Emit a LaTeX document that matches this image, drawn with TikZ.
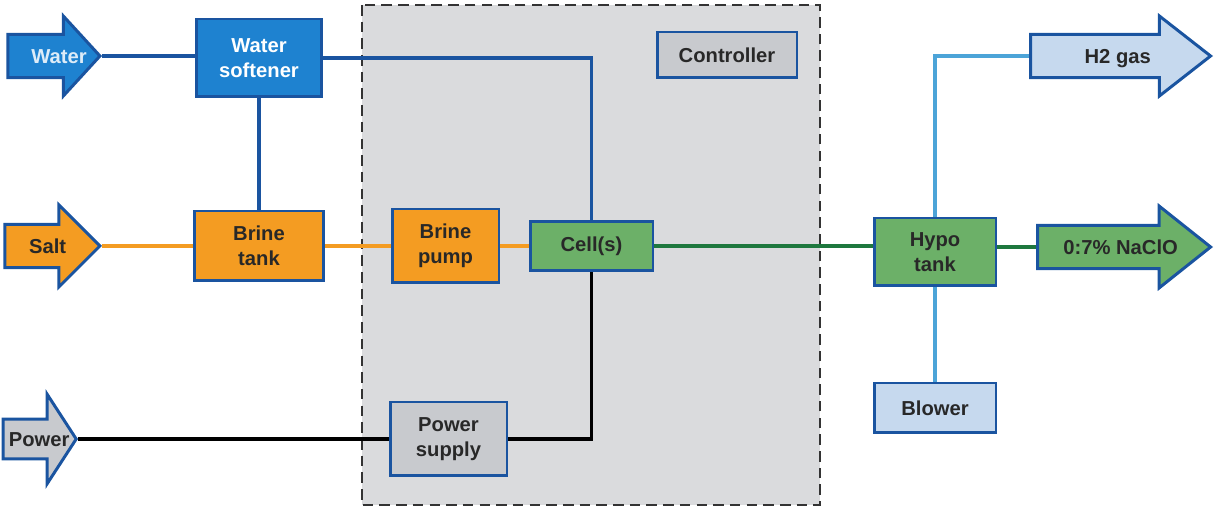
\documentclass[tikz,border=0pt]{standalone}
\usepackage{fontspec}
\setmainfont{Liberation Sans}
\usepackage{xcolor}
\definecolor{softblue}{RGB}{30,130,208}
\definecolor{edgeblue}{RGB}{26,84,160}
\definecolor{brineorg}{RGB}{244,156,34}
\definecolor{cellgrn}{RGB}{108,176,104}
\definecolor{hypogrn}{RGB}{30,120,62}
\definecolor{airblue}{RGB}{76,164,216}
\definecolor{paleblue}{RGB}{198,217,238}
\definecolor{unitgray}{RGB}{200,202,206}
\definecolor{skidgray}{RGB}{218,219,221}
\definecolor{inkdark}{RGB}{40,40,40}
\usetikzlibrary{shapes.arrows, positioning, calc}
\tikzset{
  unit/.style={
    rectangle, draw=edgeblue, line width=1.7pt,
    align=center, inner sep=1pt, text=inkdark,
    font=\fontsize{11.5}{14}\selectfont\bfseries},
  feed/.style={
    single arrow, draw=edgeblue, line width=1.7pt, anchor=tip,
    single arrow head indent=0pt, inner xsep=1pt, inner ysep=0pt,
    text height=15.5pt, text depth=7.3pt, text=inkdark,
    font=\fontsize{11.5}{14}\selectfont\bfseries},
  pipe/.style={line width=2.1pt},
  skidline/.style={line width=1.6pt, draw=black!80, dash pattern=on 6pt off 3.5pt},
}

\begin{document}
\begin{tikzpicture}[x=0.02cm, y=-0.02cm]
  \useasboundingbox (0,0) rectangle (1217,509);
  % packaged skid
  \draw[skidline, fill=skidgray] (362,5) rectangle (820,505);

  % inputs
  \node[feed, fill=softblue, text=white!85!softblue, minimum height=1.84cm,
        inner xsep=-9pt,
        single arrow head extend=0.37cm, single arrow tip angle=95]
    (water) at (102,56) {\hspace*{17pt}Water};
  \node[feed, fill=brineorg, minimum height=1.9cm, inner xsep=-2.4pt,
        single arrow head extend=0.39cm, single arrow tip angle=90]
    (salt) at (102,246) {\hspace*{6.8pt}Salt};
  \node[feed, fill=unitgray, minimum height=1.46cm, inner xsep=-8pt,
        text height=14.6pt, text depth=6.4pt,
        single arrow head extend=0.5cm, single arrow tip angle=114]
    (power) at (78,439) {\hspace*{6.8pt}Power};

  % units
  \node[unit, fill=softblue, text=white, minimum width=2.52cm, minimum height=1.56cm]
    (soft) at (259,58) {Water\\softener};
  \node[unit, fill=brineorg, minimum width=2.6cm, minimum height=1.4cm]
    (tank) at (259,246) {Brine\\tank};
  \node[unit, fill=brineorg, minimum width=2.14cm, minimum height=1.48cm]
    (pump) at (445.5,246) {Brine\\pump};
  \node[unit, fill=cellgrn, minimum width=2.46cm, minimum height=0.98cm]
    (cell) at (591.5,246) {Cell(s)};
  \node[unit, fill=unitgray, minimum width=2.8cm, minimum height=0.92cm]
    (ctrl) at (727,55) {Controller};
  \node[unit, fill=unitgray, minimum width=2.34cm, minimum height=1.48cm]
    (psu) at (448.5,439) {Power\\supply};
  \node[unit, fill=cellgrn, minimum width=2.44cm, minimum height=1.36cm]
    (hypo) at (935,252) {Hypo\\tank};
  \node[unit, fill=paleblue, minimum width=2.44cm, minimum height=1.0cm]
    (blower) at (935,408) {Blower};

  % outputs
  \node[feed, fill=paleblue, minimum height=3.6cm, inner xsep=-5.2pt,
        single arrow head extend=0.37cm, single arrow tip angle=76]
    (h2) at (1213,56) {\hspace*{12.4pt}H2 gas};
  \node[feed, fill=cellgrn, minimum height=3.46cm, inner xsep=-4.7pt,
        single arrow head extend=0.39cm, single arrow tip angle=77]
    (naclo) at (1213,247) {\hspace*{11.4pt}0:7\% NaClO};

  % piping
  \draw[pipe, edgeblue] (water.tip) -- (water.tip -| soft.west);
  \draw[pipe, edgeblue] (soft.south) -- (tank.north);
  \draw[pipe, edgeblue] (soft.east) -| (cell.north);
  \draw[pipe, brineorg] (salt.tip) -- (tank.west);
  \draw[pipe, brineorg] (tank.east) -- (pump.west);
  \draw[pipe, brineorg] (pump.east) -- (cell.west);
  \draw[pipe, black] (power.tip) -- (psu.west);
  \draw[pipe, black] (psu.east) -| (cell.south);
  \draw[pipe, hypogrn] (cell.east) -- (cell.east -| hypo.west);
  \draw[pipe, hypogrn] (naclo.tail -| hypo.east) -- (naclo.tail);
  \draw[pipe, airblue, line width=1.8pt] (hypo.north) |- (h2.tail);
  \draw[pipe, airblue, line width=1.8pt] (blower.north) -- (hypo.south);
\end{tikzpicture}
\end{document}
